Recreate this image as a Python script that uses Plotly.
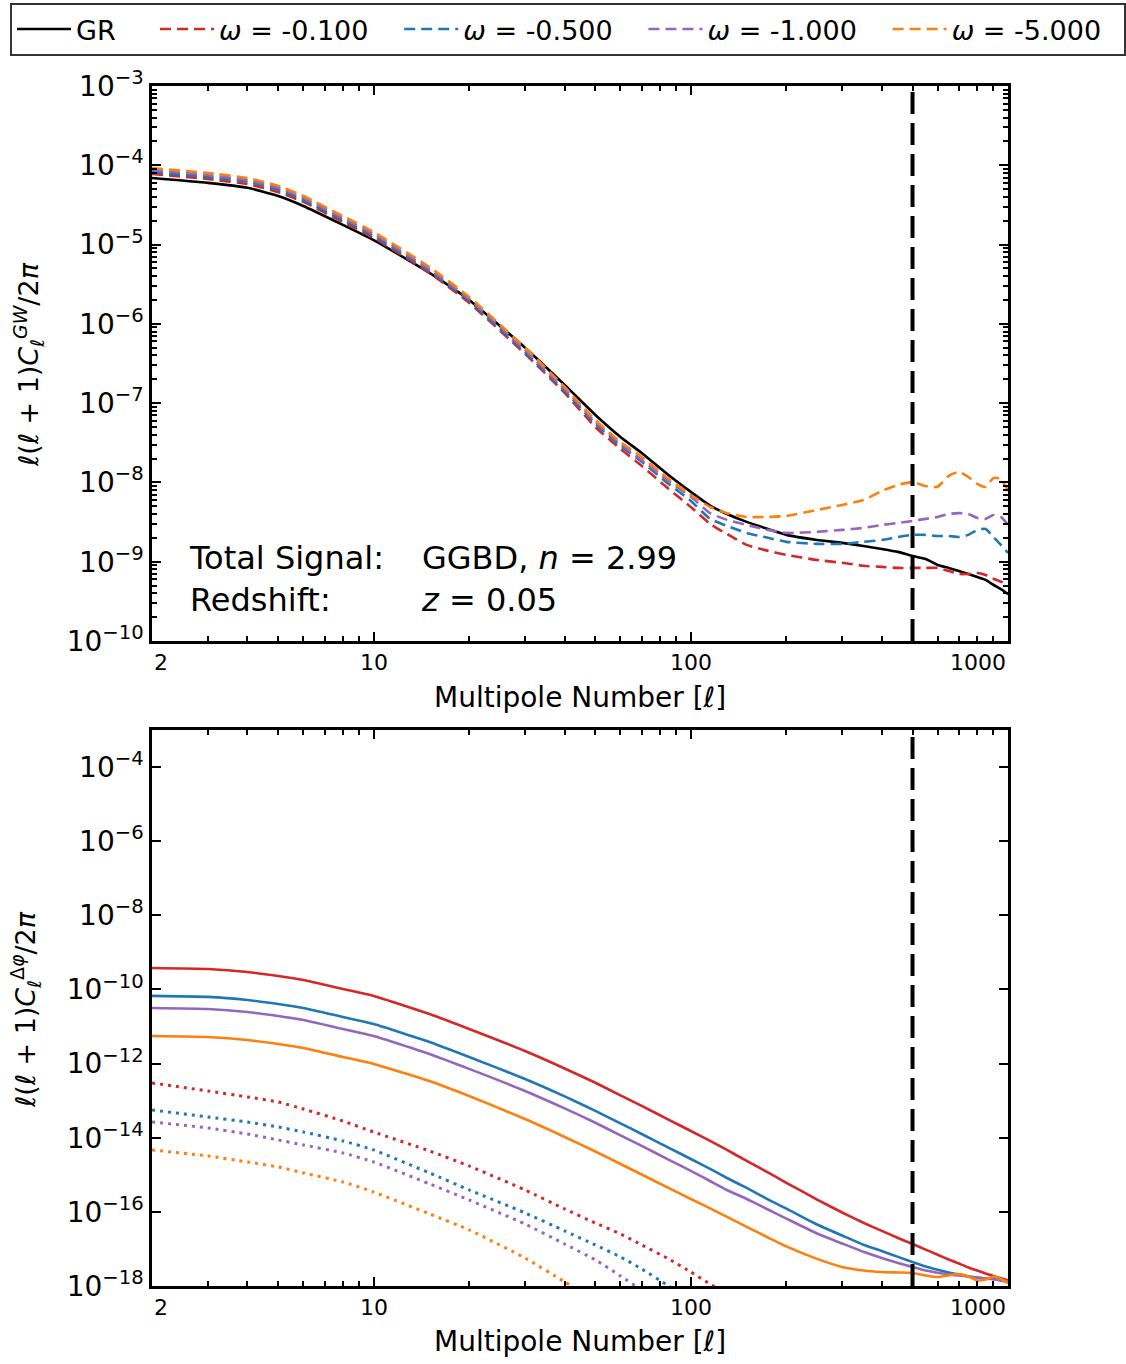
import math
import plotly.graph_objects as go

W, H = 1126, 1364

# ---------------- data ----------------
ell = [2, 3, 4, 5, 6, 8, 10, 15, 20, 30, 40, 50, 60, 70, 85, 100, 115, 130, 150, 175,
       200, 250, 300, 350, 400, 450, 500, 550, 600, 650, 700, 750, 800, 850, 900, 950, 1000]

# top panel: l(l+1) C_l^GW / 2pi
gw_gr = [6.9e-5, 6.0e-5, 5.2e-5, 4.1e-5, 3.07e-5, 1.77e-5, 1.14e-5, 4.4e-6, 2.0e-6, 5.0e-7,
         1.70e-7, 7.1e-8, 3.75e-8, 2.35e-8, 1.24e-8, 7.6e-9, 5.1e-9, 4.0e-9, 3.18e-9, 2.59e-9,
         2.18e-9, 1.88e-9, 1.73e-9, 1.58e-9, 1.45e-9, 1.33e-9, 1.18e-9, 1.08e-9, 9.1e-10, 8.35e-10,
         7.65e-10, 7.0e-10, 6.4e-10, 5.9e-10, 5.1e-10, 4.5e-10, 3.9e-10]
gw_w0100 = [7.8e-5, 6.7e-5, 5.8e-5, 4.6e-5, 3.45e-5, 1.93e-5, 1.21e-5, 4.4e-6, 1.84e-6, 4.2e-7,
            1.35e-7, 5.0e-8, 2.64e-8, 1.62e-8, 8.3e-9, 4.9e-9, 3.0e-9, 2.24e-9, 1.63e-9, 1.37e-9,
            1.22e-9, 1.05e-9, 9.7e-10, 8.9e-10, 8.6e-10, 8.35e-10, 8.35e-10, 8.35e-10, 8.35e-10, 7.65e-10,
            7.0e-10, 7.0e-10, 7.2e-10, 6.8e-10, 6.1e-10, 5.6e-10, 5.1e-10]
gw_w0500 = [8.2e-5, 7.1e-5, 6.2e-5, 4.9e-5, 3.65e-5, 2.04e-5, 1.28e-5, 4.65e-6, 1.95e-6, 4.4e-7,
            1.43e-7, 5.5e-8, 2.9e-8, 1.82e-8, 9.6e-9, 5.85e-9, 3.47e-9, 2.83e-9, 2.31e-9, 2.0e-9,
            1.78e-9, 1.68e-9, 1.68e-9, 1.78e-9, 1.88e-9, 2.05e-9, 2.18e-9, 2.18e-9, 2.11e-9, 2.11e-9,
            2.05e-9, 2.18e-9, 2.52e-9, 2.59e-9, 2.05e-9, 1.63e-9, 1.29e-9]
gw_w1000 = [8.7e-5, 7.55e-5, 6.5e-5, 5.2e-5, 3.9e-5, 2.16e-5, 1.36e-5, 4.9e-6, 2.06e-6, 4.7e-7,
            1.51e-7, 5.8e-8, 3.06e-8, 1.92e-8, 1.04e-8, 6.6e-9, 4.1e-9, 3.37e-9, 2.91e-9, 2.52e-9,
            2.31e-9, 2.38e-9, 2.52e-9, 2.67e-9, 2.91e-9, 3.08e-9, 3.27e-9, 3.47e-9, 3.67e-9, 4.0e-9,
            4.1e-9, 4.0e-9, 3.57e-9, 3.47e-9, 3.89e-9, 3.67e-9, 2.91e-9]
gw_w5000 = [9.2e-5, 8.0e-5, 6.9e-5, 5.5e-5, 4.1e-5, 2.29e-5, 1.44e-5, 5.2e-6, 2.18e-6, 5.0e-7,
            1.60e-7, 6.1e-8, 3.24e-8, 2.1e-8, 1.11e-8, 6.95e-9, 4.9e-9, 4.1e-9, 3.67e-9, 3.67e-9,
            3.78e-9, 4.5e-9, 5.2e-9, 6.0e-9, 7.8e-9, 9.3e-9, 1.01e-8, 9.0e-9, 8.8e-9, 1.21e-8,
            1.36e-8, 1.17e-8, 9.6e-9, 8.8e-9, 1.14e-8, 1.11e-8, 7.8e-9]

# bottom panel: l(l+1) C_l^{Delta phi} / 2pi  (solid curves)
dp_w0100 = [3.8e-10, 3.57e-10, 2.96e-10, 2.31e-10, 1.80e-10, 1.03e-10, 6.7e-11, 2.18e-11, 8.6e-12, 2.19e-12,
            7.4e-13, 3.04e-13, 1.39e-13, 7.2e-14, 3.09e-14, 1.52e-14, 8.2e-15, 4.68e-15, 2.36e-15, 1.16e-15,
            6.1e-16, 2.15e-16, 9.6e-17, 5.1e-17, 3.06e-17, 1.98e-17, 1.36e-17, 9.6e-18, 6.97e-18, 5.2e-18,
            4.03e-18, 3.16e-18, 2.61e-18, 2.17e-18, 1.85e-18, 1.61e-18, 1.41e-18]
dp_w0500 = [6.7e-11, 6.3e-11, 5.2e-11, 4.06e-11, 3.17e-11, 1.81e-11, 1.17e-11, 3.83e-12, 1.51e-12, 3.85e-13,
            1.31e-13, 5.3e-14, 2.44e-14, 1.26e-14, 5.4e-15, 2.67e-15, 1.44e-15, 8.2e-16, 4.42e-16, 2.16e-16,
            1.22e-16, 4.55e-17, 2.3e-17, 1.3e-17, 8.8e-18, 6.1e-18, 4.46e-18, 3.35e-18, 2.74e-18, 2.32e-18,
            2.04e-18, 1.81e-18, 1.69e-18, 1.59e-18, 1.55e-18, 1.42e-18, 1.25e-18]
dp_w1000 = [3.17e-11, 2.98e-11, 2.47e-11, 1.93e-11, 1.50e-11, 8.6e-12, 5.56e-12, 1.82e-12, 7.2e-13, 1.83e-13,
            6.2e-14, 2.54e-14, 1.16e-14, 6.0e-15, 2.58e-15, 1.27e-15, 6.8e-16, 3.9e-16, 2.23e-16, 1.16e-16,
            6.6e-17, 2.6e-17, 1.4e-17, 8.4e-18, 5.7e-18, 4.19e-18, 3.27e-18, 2.61e-18, 2.28e-18, 2.05e-18,
            1.91e-18, 1.81e-18, 1.69e-18, 1.59e-18, 1.52e-18, 1.42e-18, 1.33e-18]
dp_w5000 = [5.56e-12, 5.2e-12, 4.34e-12, 3.39e-12, 2.64e-12, 1.51e-12, 9.8e-13, 3.4e-13, 1.34e-13, 3.2e-14,
            1.05e-14, 4.26e-15, 1.96e-15, 1.02e-15, 4.42e-16, 2.23e-16, 1.24e-16, 7.3e-17, 3.92e-17, 2.04e-17,
            1.17e-17, 5.4e-18, 3.27e-18, 2.62e-18, 2.39e-18, 2.32e-18, 2.25e-18, 1.93e-18, 1.75e-18, 1.93e-18,
            2.11e-18, 1.81e-18, 1.41e-18, 1.50e-18, 1.81e-18, 1.55e-18, 1.21e-18]

# bottom panel dotted curves (run off the bottom of the axes)
dot_w0100 = [3.0e-13, 1.83e-13, 1.26e-13, 9.2e-14, 5.97e-14, 2.83e-14, 1.43e-14, 4.4e-15, 1.73e-15,
             3.9e-16, 1.2e-16, 5.0e-17, 2.54e-17, 1.28e-17, 5.4e-18, 2.39e-18, 1.13e-18, 6.5e-19]
dot_w0500 = [5.6e-14, 3.63e-14, 2.66e-14, 1.95e-14, 1.43e-14, 8.2e-15, 4.68e-15, 1.12e-15, 3.9e-16,
             9.4e-17, 3.06e-17, 1.28e-17, 6.1e-18, 2.88e-18, 1.0e-18, 3.7e-19]
dot_w1000 = [2.66e-14, 1.84e-14, 1.26e-14, 8.7e-15, 6.4e-15, 3.88e-15, 2.22e-15, 5.7e-16, 2.09e-16,
             4.7e-17, 1.36e-17, 5.05e-18, 1.87e-18, 7.8e-19, 3.1e-19]
dot_w5000 = [4.68e-15, 3.22e-15, 2.22e-15, 1.63e-15, 1.12e-15, 6.4e-16, 3.44e-16, 8.8e-17, 3.25e-17,
             5.7e-18, 1.29e-18, 4.2e-19]

ell_cut = 500  # vertical dashed line

labels = ["GR", "<i>ω</i> = -0.100", "<i>ω</i> = -0.500", "<i>ω</i> = -1.000", "<i>ω</i> = -5.000"]
colors = ["black", "#d62728", "#1f77b4", "#9467bd", "#ff7f0e"]

# ---------------- figure ----------------
FONT = "DejaVu Sans"
NB = "\u00a0"
fig = go.Figure()

top_series = [gw_gr, gw_w0100, gw_w0500, gw_w1000, gw_w5000]
pads = [NB * 4, NB * 3, NB * 3, NB * 3, NB * 2]
for i, ys in enumerate(top_series):
    fig.add_trace(go.Scatter(
        x=ell, y=ys, mode="lines", name=labels[i] + pads[i],
        line=dict(color=colors[i], width=2.6, dash="solid" if i == 0 else "11px,6px",
                  shape="spline", smoothing=0.5),
        xaxis="x", yaxis="y", showlegend=True))

fig.add_trace(go.Scatter(x=[ell_cut, ell_cut], y=[1e-10, 1e-3], mode="lines",
                         line=dict(color="black", width=4, dash="22px,9px"),
                         xaxis="x", yaxis="y", showlegend=False, hoverinfo="skip"))

bottom_solid = [dp_w0100, dp_w0500, dp_w1000, dp_w5000]
bottom_dot = [dot_w0100, dot_w0500, dot_w1000, dot_w5000]
for i, ys in enumerate(bottom_solid):
    fig.add_trace(go.Scatter(x=ell, y=ys, mode="lines",
                             line=dict(color=colors[i + 1], width=2.6, shape="spline", smoothing=0.5),
                             xaxis="x2", yaxis="y2", showlegend=False))
for i, ys in enumerate(bottom_dot):
    fig.add_trace(go.Scatter(x=ell[:len(ys)], y=ys, mode="lines",
                             line=dict(color=colors[i + 1], width=3, dash="3px,5px", shape="spline", smoothing=0.5),
                             xaxis="x2", yaxis="y2", showlegend=False))

fig.add_trace(go.Scatter(x=[ell_cut, ell_cut], y=[1e-18, 1e-3], mode="lines",
                         line=dict(color="black", width=4, dash="22px,9px"),
                         xaxis="x2", yaxis="y2", showlegend=False, hoverinfo="skip"))


def px(xp):
    return xp / W


def py(yp):
    return 1 - yp / H


xdom = [px(152), px(1008)]
xminor = [k * 10 ** n for n in range(0, 3) for k in range(2, 10)]
xminor = [v for v in xminor if v > 2]

axis_common = dict(type="log", showgrid=False, zeroline=False, linecolor="black", linewidth=2.5,
                   mirror="ticks", ticks="inside", tickcolor="black", tickwidth=2)

ytop_vals = [10.0 ** e for e in range(-10, -2)]
ytop_text = ["10<sup>\u2212%d</sup>" % (-e) for e in range(-10, -2)]
ytop_minor = [k * 10.0 ** n for n in range(-10, -3) for k in range(2, 10)]

ybot_vals = [10.0 ** e for e in range(-18, -3, 2)]
ybot_text = ["10<sup>\u2212%d</sup>" % (-e) for e in range(-18, -3, 2)]

fig.update_layout(
    width=W, height=H, margin=dict(l=0, r=0, t=0, b=0, autoexpand=False),
    paper_bgcolor="white", plot_bgcolor="white",
    font=dict(family=FONT, color="black"),
    xaxis=dict(domain=xdom, anchor="y", range=[math.log10(2), 3], tickmode="array", tickvals=[10, 100, 1000],
               showticklabels=False, ticklen=9,
               minor=dict(tickmode="array", tickvals=xminor, ticks="inside", ticklen=5, tickcolor="black", tickwidth=1.5),
               **axis_common),
    yaxis=dict(domain=[py(641), py(86)], anchor="x", range=[-10, -3], tickmode="array", tickvals=ytop_vals,
               ticktext=ytop_text, ticklen=9, tickfont=dict(size=28, family=FONT),
               minor=dict(tickmode="array", tickvals=ytop_minor, ticks="inside", ticklen=5, tickcolor="black", tickwidth=1.5),
               **axis_common),
    xaxis2=dict(domain=xdom, anchor="y2", range=[math.log10(2), 3], tickmode="array", tickvals=[10, 100, 1000],
                showticklabels=False, ticklen=9,
                minor=dict(tickmode="array", tickvals=xminor, ticks="inside", ticklen=5, tickcolor="black", tickwidth=1.5),
                **axis_common),
    yaxis2=dict(domain=[py(1286), py(730)], anchor="x2", range=[-18, -3], tickmode="array", tickvals=ybot_vals,
                ticktext=ybot_text, ticklen=9, tickfont=dict(size=28, family=FONT), **axis_common),
    legend=dict(orientation="h", x=px(10), y=py(3), xanchor="left", yanchor="top",
                bordercolor="#333333", borderwidth=2, bgcolor="white",
                font=dict(size=27, family=FONT), itemwidth=54, tracegroupgap=0),
    showlegend=True,
)

ann = []
# x tick labels (both panels)
for xr, yc in (("x", 662), ("x2", 1307)):
    for val, txt, anc in ((2, "2", "left"), (10, "10", "center"), (100, "100", "center"), (1000, "1000", "right")):
        ann.append(dict(x=math.log10(val), y=py(yc), xref=xr, yref="paper", text=txt, showarrow=False,
                        xanchor=anc, yanchor="middle", font=dict(size=22, family=FONT)))
# axis titles
for yc in (697, 1341):
    ann.append(dict(x=px(580), y=py(yc), xref="paper", yref="paper", text="Multipole Number [<i>ℓ</i>]",
                    showarrow=False, xanchor="center", yanchor="middle", font=dict(size=28, family=FONT)))
ann.append(dict(x=px(28), y=py(365), xref="paper", yref="paper", textangle=-90,
                text="<i>ℓ</i>(<i>ℓ</i> + 1)<i>C</i><sub><i>ℓ</i></sub><sup><i>GW</i></sup>/2<i>π</i>",
                showarrow=False, xanchor="center", yanchor="middle", font=dict(size=27, family=FONT)))
ann.append(dict(x=px(25), y=py(1010), xref="paper", yref="paper", textangle=-90,
                text="<i>ℓ</i>(<i>ℓ</i> + 1)<i>C</i><sub><i>ℓ</i></sub><sup>Δ<i>φ</i></sup>/2<i>π</i>",
                showarrow=False, xanchor="center", yanchor="middle", font=dict(size=27, family=FONT)))
# in-panel text
ann.append(dict(x=px(187), y=py(579), xref="paper", yref="paper", text="Total Signal:<br>Redshift:",
                showarrow=False, xanchor="left", yanchor="middle", align="left", font=dict(size=32, family=FONT)))
ann.append(dict(x=px(419), y=py(579), xref="paper", yref="paper",
                text="GGBD, <i>n</i> = 2.99<br><i>z</i> = 0.05",
                showarrow=False, xanchor="left", yanchor="middle", align="left", font=dict(size=32, family=FONT)))
fig.update_layout(annotations=ann)

fig.write_html("out.html")
